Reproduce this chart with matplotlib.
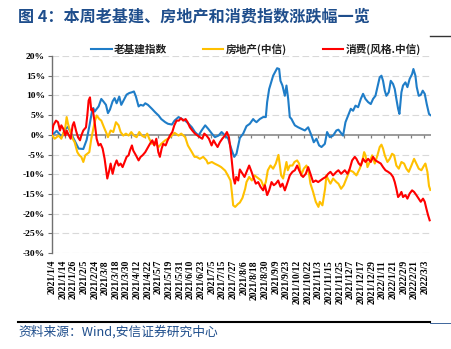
import matplotlib
matplotlib.use("Agg")
import matplotlib.pyplot as plt
from matplotlib.lines import Line2D
import numpy as np

plt.rcParams['font.family'] = ['Noto Sans CJK SC', 'DejaVu Sans']

# ---------------- data (trading-day index from 2021/1/4, % change) ----------------
tick_labels = ["2021/1/4", "2021/1/14", "2021/1/26", "2021/2/5", "2021/2/24", "2021/3/8",
               "2021/3/18", "2021/3/30", "2021/4/12", "2021/4/22", "2021/5/7", "2021/5/19",
               "2021/5/31", "2021/6/10", "2021/6/23", "2021/7/5", "2021/7/15", "2021/7/27",
               "2021/8/6", "2021/8/18", "2021/8/30", "2021/9/9", "2021/9/23", "2021/10/12",
               "2021/10/22", "2021/11/3", "2021/11/15", "2021/11/25", "2021/12/7", "2021/12/17",
               "2021/12/29", "2022/1/11", "2022/1/21", "2022/2/9", "2022/2/21", "2022/3/3"]
label_step = 8
minor_step = 10

blue_x = [0, 2, 3.5, 6, 7.5, 10, 12, 13.5, 16, 18.5, 20, 23.5, 26, 28, 30, 31, 32, 35, 37, 38.5,
          40.5, 42, 43.5, 45.5, 47, 48.5, 50.5, 52, 54, 56, 58, 60, 61.5, 63, 65, 66.5, 68.5, 70,
          72, 75, 77.5, 80, 82, 85, 87, 90, 92, 95, 97.5, 100, 102.5, 105, 107.3, 110, 112.3, 115,
          117.3, 120, 122.3, 125, 127.3, 130, 132.3, 135, 136.8, 138.5, 141, 143.5, 146, 148.5,
          151, 152, 153.5, 156, 158.5, 160.5, 161.5, 163, 164.8, 166, 168, 169, 170.5, 171.5, 173,
          174.8, 176, 177.3, 178.5, 179.8, 181, 182.3, 184.8, 187.3, 189.8, 192.3, 194.8, 196.5,
          198.5, 200.5, 202.3, 204.8, 206.5, 208.5, 211, 213.5, 215, 217.3, 218.5, 220.3, 222.3,
          224.3, 226, 227.8, 229.8, 231.8, 233.5, 235.3, 237.3, 239.3, 241, 242.8, 244.3, 246,
          247.3, 248.5, 249.8, 251, 252.8, 254.3, 256, 257.3, 258.5, 259.8, 260.8, 262.3, 263.5,
          265.3, 266.8, 268.5, 270.3, 271.3, 272.8, 273.8, 275.3, 276.8, 278.3, 279.8, 281.3,
          283, 284]
blue_y = [0.0, 0.5, 1.0, 0.0, -0.5, 1.5, 2.0, 1.0, -0.8, -2.5, -3.5, -3.6, -1.3, 2.1, 5.9, 6.8,
          5.9, 7.2, 9.1, 8.5, 7.6, 5.5, 6.4, 8.5, 9.3, 8.0, 9.7, 7.6, 8.9, 10.2, 10.6, 10.8, 11.0,
          9.7, 7.2, 7.6, 7.4, 8.0, 7.6, 6.6, 5.7, 4.9, 4.0, 3.2, 2.8, 2.6, 3.6, 4.5, 4.0, 3.6, 2.8,
          1.9, 0.7, -0.2, 1.1, 2.4, 1.5, 0.3, -0.6, -0.2, 0.7, -0.2, -1.0, -4.0, -5.6, -4.8, -0.8,
          0.3, 2.2, 2.8, 4.0, 3.6, 3.2, 4.0, 4.5, 4.5, 8.3, 11.6, 13.7, 15.0, 16.3, 16.9, 16.7,
          13.7, 12.5, 9.9, 12.5, 9.1, 4.5, 4.0, 3.2, 2.4, 1.9, 1.5, 1.1, 1.9, -0.2, -1.9, -1.0,
          -2.7, -3.1, -2.3, 0.7, -0.6, -0.2, 1.1, 1.3, 0.3, -0.2, 3.2, 4.9, 6.6, 6.1, 7.4, 7.0,
          9.1, 10.4, 9.1, 8.3, 7.8, 9.1, 9.9, 12.1, 14.6, 15.0, 13.7, 11.2, 9.9, 10.8, 13.7, 12.9,
          11.6, 9.1, 6.6, 5.3, 10.8, 12.5, 13.3, 12.1, 14.2, 15.4, 16.7, 15.0, 12.1, 9.9, 10.1,
          11.2, 10.4, 7.8, 5.3, 5.0]

yellow_x = [0, 2, 5, 7, 10, 11, 12, 13.5, 15.5, 17, 19, 20.5, 22, 23.5, 25, 26.5, 28, 29.5, 31,
            32, 33.5, 35.5, 37, 39, 41, 42, 44, 46, 48, 50, 51.5, 53.5, 55.5, 57.5, 59.5, 61.5,
            63.5, 65.5, 67.5, 69.5, 71.5, 73, 75, 77, 80, 82, 85, 87, 90, 92, 95, 97, 100, 102,
            105, 107, 108.5, 111, 113.5, 116, 117, 120, 122, 125, 127, 130, 132, 134, 135, 136,
            137.5, 139.8, 141, 143, 145, 146, 148, 150, 152, 155, 157, 159, 160.5, 162, 164, 166,
            168, 170, 171, 172, 173.5, 175, 176, 177, 178.5, 180.5, 182, 184, 185.5, 187, 189,
            191, 192.5, 194, 196, 198, 200, 201, 203, 205, 206, 207, 209, 211, 213.5, 215, 217,
            219, 221, 223.5, 226, 228.5, 231, 232.8, 234.3, 235.3, 236.8, 238.5, 240.3, 242.3,
            244.3, 246, 247.3, 248.5, 249.8, 251.8, 253.5, 255.3, 256.8, 258.5, 260.3, 262.3,
            264.3, 266, 267.8, 269.8, 271.8, 273.5, 275.3, 277.3, 279.3, 280.3, 281.8, 283, 284]
yellow_y = [0.0, -1.0, -0.2, -1.0, 1.9, 4.5, 2.8, 1.1, -1.0, -1.9, -4.4, -5.2, -5.6, -6.9, -5.2,
            -4.8, -4.4, -1.0, 1.5, 3.2, 4.9, 4.0, 3.6, 1.9, 0.3, -0.6, 1.1, 0.7, 3.2, 2.4, 0.7,
            -0.2, 0.3, -0.2, 0.7, -0.2, -0.6, 0.7, -0.2, -0.6, 0.3, -1.0, -2.3, -1.9, -3.1, -2.3,
            -1.4, -1.0, -0.2, 0.5, -0.2, 0.3, -0.6, -2.7, -4.4, -5.6, -5.6, -6.1, -5.6, -6.5,
            -7.3, -6.9, -7.3, -7.8, -8.2, -9.1, -10.3, -11.6, -14.5, -17.9, -18.3, -17.5, -17.2,
            -16.0, -13.7, -12.0, -10.7, -11.6, -10.3, -11.1, -11.6, -13.3, -12.0, -9.0, -7.8,
            -8.6, -7.3, -5.1, -7.8, -10.3, -11.1, -8.6, -6.9, -9.0, -7.8, -7.8, -6.9, -6.5, -7.3,
            -10.3, -8.6, -7.8, -9.0, -12.4, -14.5, -17.0, -18.3, -17.0, -17.9, -13.7, -10.3,
            -11.1, -12.4, -11.1, -12.0, -12.4, -13.7, -12.8, -11.1, -9.0, -9.4, -10.3, -8.6,
            -6.9, -4.4, -5.2, -8.2, -6.9, -5.2, -7.3, -5.2, -3.1, -2.5, -3.5, -5.2, -6.9, -6.1,
            -4.8, -5.2, -7.8, -8.6, -6.9, -7.3, -8.6, -9.4, -7.8, -6.1, -7.3, -8.6, -9.0, -7.8,
            -7.3, -9.4, -13.0, -14.0]

red_x = [0, 1, 3, 4.5, 6, 7, 8.5, 10, 11, 12, 14, 15.5, 16.5, 18, 19.5, 21, 22, 23.5, 25.5,
         26.5, 27.5, 28.5, 29.5, 30.5, 32, 33.5, 35, 36.5, 38, 39.5, 40.5, 41.5, 43, 44, 45.5,
         47, 48.5, 50, 51.5, 53, 54.5, 56, 57.5, 58.5, 60, 61, 63, 65, 66.5, 68, 70, 71.5, 73.5,
         75.3, 76.8, 78.3, 79.8, 81, 82.3, 83.5, 85.3, 86.8, 88.5, 90.3, 91.8, 93.5, 95.3, 96.8,
         98.5, 100.3, 101.8, 103.5, 105.3, 107.3, 109.3, 111, 112.8, 114.3, 116, 117.8, 119.8,
         121.3, 122.8, 124.3, 126, 127.8, 129.8, 131.3, 132.8, 134.3, 135.3, 136.3, 137.3,
         138.3, 139.8, 141, 143, 144.5, 146.5, 148, 149.8, 151.5, 153, 154.8, 156.5, 158.5,
         159.8, 161.5, 163, 164.8, 166.5, 168, 169.8, 171.5, 173, 174.8, 176.5, 178.5, 180.5,
         182.3, 184, 185.5, 187.3, 188.5, 190.5, 192.3, 194, 196, 198, 199.8, 201.5, 203.5,
         205.5, 207.3, 209, 211, 213.5, 215, 217, 219.8, 221.8, 223.5, 225.3, 227.3, 228.5,
         230.3, 231.8, 233.5, 235.3, 237.3, 239.3, 241, 242.8, 244.8, 246.8, 248.5, 250.3,
         252.3, 254.3, 256, 257.3, 258.5, 259.8, 261, 262.3, 263.5, 265.3, 266.8, 268.5, 270.3,
         271.8, 273.5, 275.3, 276.8, 278.5, 279.8, 281, 282.3, 283.5]
red_y = [0.3, 2.4, 3.6, 3.2, 1.1, 2.4, 1.5, -0.2, 1.1, 0.3, -1.0, 2.4, 3.2, 1.1, -0.6, -1.4,
         -0.2, 1.1, 1.9, 4.9, 8.7, 9.5, 6.2, 6.6, 3.2, -1.0, -2.7, -2.3, -3.5, -6.1, -8.6, -11.1,
         -9.0, -7.3, -9.9, -7.8, -6.5, -7.8, -7.3, -8.2, -6.9, -5.6, -5.2, -4.0, -2.7, -4.0, -5.2,
         -6.5, -5.6, -5.2, -4.4, -3.5, -2.3, -1.4, -2.7, -1.0, -4.4, -5.6, -3.5, -2.3, -2.7, -1.4,
         -0.2, 0.7, 2.4, 3.6, 3.6, 4.2, 3.6, 4.0, 3.2, 1.9, 1.1, 0.3, -0.2, -0.6, -1.0, 0.3, -0.2,
         -1.0, -2.7, -1.4, -2.3, -3.1, -1.9, -1.0, -0.2, 0.7, -0.6, -4.4, -7.8, -11.1, -12.4,
         -10.7, -11.6, -8.8, -9.9, -10.7, -9.0, -7.8, -9.4, -11.1, -12.4, -12.0, -13.2, -14.1,
         -12.8, -15.3, -14.1, -12.0, -12.8, -12.4, -11.6, -13.2, -12.4, -14.1, -12.4, -10.3,
         -9.4, -9.0, -7.8, -9.0, -10.3, -10.7, -9.9, -8.2, -9.9, -12.0, -11.6, -12.0, -11.6,
         -11.1, -10.7, -9.9, -9.4, -10.3, -9.4, -9.0, -9.9, -9.0, -9.9, -8.6, -6.5, -5.6, -6.1,
         -7.3, -7.8, -6.1, -6.9, -6.1, -6.9, -5.6, -6.5, -6.9, -7.3, -8.2, -9.0, -9.4, -9.9,
         -10.7, -12.0, -13.7, -15.8, -15.3, -14.5, -15.8, -15.3, -16.2, -14.9, -14.1, -14.5,
         -15.3, -16.2, -17.0, -16.2, -17.0, -18.7, -20.4, -21.7]

series_names = ["老基建指数", "房地产(中信)", "消费(风格.中信)"]
series_colors = ["#1F7DC8", "#FFC000", "#FF0000"]
y_ticks = [20, 15, 10, 5, 0, -5, -10, -15, -20, -25, -30]

# ---------------- figure ----------------
W, H = 451, 349
fig = plt.figure(figsize=(W / 100, H / 100), dpi=100)
ax = fig.add_axes([52 / W, 1 - 253 / H, (431 - 52) / W, (253 - 56) / H])

for xs, ys, c, n in zip([blue_x, yellow_x, red_x], [blue_y, yellow_y, red_y],
                        series_colors, series_names):
    ax.plot(xs, ys, color=c, lw=1.5, label=n, zorder=3, solid_joinstyle='round')

ax.set_xlim(0, 284.5)
ax.set_ylim(-30, 20)

# grid
for v in y_ticks:
    if v != 0:
        ax.axhline(v, color="#D9D9D9", lw=0.8, ls=(0, (6, 3)), zorder=1)
ax.axhline(0, color="#808080", lw=1.1, zorder=2)
minor_pos = np.arange(minor_step - 0.5, 284, minor_step)
ax.vlines(minor_pos, -0.75, 0, color="#808080", lw=0.9, zorder=2)

for s in ["top", "right", "bottom"]:
    ax.spines[s].set_visible(False)
ax.spines["left"].set_color("#707070")
ax.spines["left"].set_linewidth(1.0)

ax.set_yticks(y_ticks)
ax.set_yticklabels([f"{v}%" for v in y_ticks],
                   fontfamily="Liberation Serif", fontweight="bold", fontsize=6.8)
ax.tick_params(axis="y", length=3, width=0.8, color="#707070", pad=2)

xt = np.arange(0, len(tick_labels) * label_step, label_step)
ax.set_xticks(xt)
ax.set_xticklabels(tick_labels, rotation=90, fontfamily="Liberation Serif",
                   fontweight="bold", fontsize=7)
ax.tick_params(axis="x", length=0, pad=5)

# legend
leg = ax.legend(loc="center", bbox_to_anchor=(256 / W, 1 - 49 / H),
                bbox_transform=fig.transFigure, ncol=3, frameon=False,
                handlelength=1.9, handletextpad=0.2, columnspacing=3.4,
                prop={"family": ["Noto Sans CJK SC", "DejaVu Sans"], "weight": "bold", "size": 7.7})
for t in leg.get_texts():
    t.set_color("#222222")

# title
fig.text(18 / W, 1 - 16 / H, "图 4：本周老基建、房地产和消费指数涨跌幅一览",
         fontsize=11.6, fontweight="bold", color="#1F4E8C", va="center", ha="left")

# frame lines
fig.add_artist(Line2D([430 / W, 1.0], [1 - 36 / H] * 2, color="#333333", lw=1.0))
fig.add_artist(Line2D([18 / W, 430 / W], [1 - 322 / H] * 2, color="#000000", lw=1.5))
fig.add_artist(Line2D([430 / W, 1.0], [1 - 322.5 / H] * 2, color="#1F4E8C", lw=0.6))

# source
fig.text(18 / W, 1 - 332 / H, "资料来源：Wind,安信证券研究中心",
         fontsize=9.2, color="#1F4E8C", va="center", ha="left", style="italic")

fig.savefig("out.png", dpi=100)
